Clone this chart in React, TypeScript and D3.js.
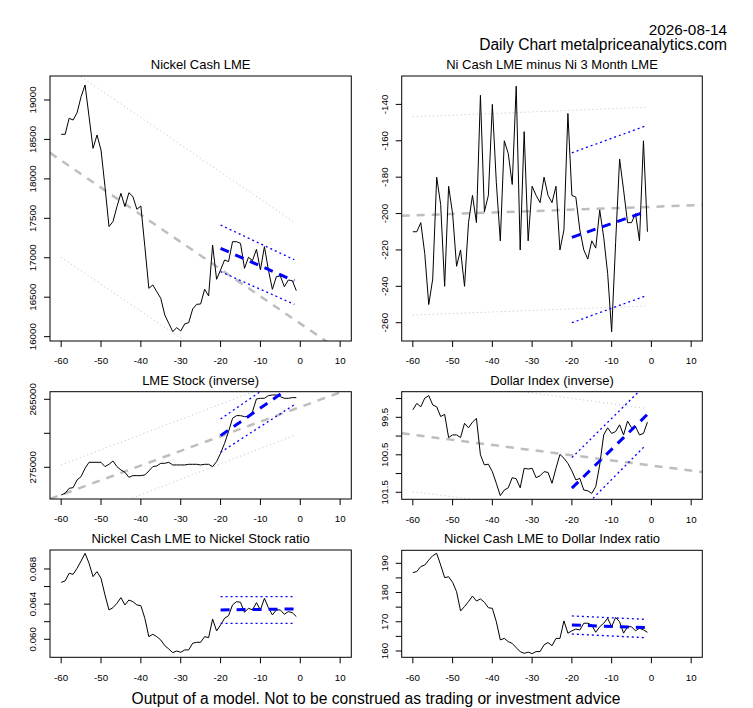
import * as d3 from "d3";

// trading days back from today
const days = [
  -60, -59, -58, -57, -56, -55, -54, -53, -52, -51, -50, -49, -48, -47, -46,
  -45, -44, -43, -42, -41, -40, -39, -38, -37, -36, -35, -34, -33, -32, -31,
  -30, -29, -28, -27, -26, -25, -24, -23, -22, -21, -20, -19, -18, -17, -16,
  -15, -14, -13, -12, -11, -10, -9, -8, -7, -6, -5, -4, -3, -2, -1,
];
const xTicks = [-60, -50, -40, -30, -20, -10, 0, 10];

const nickelCash = [
  18565, 18565, 18768, 18746, 18839, 19042, 19190, 18789, 18387, 18556,
  18366, 17901, 17395, 17458, 17648, 17817, 17648, 17825, 17775, 17614,
  17656, 17141, 16613, 16655, 16570, 16486, 16275, 16169, 16064, 16114,
  16072, 16161, 16178, 16351, 16410, 16414, 16600, 16516, 17162, 16727,
  16845, 16972, 16951, 17204, 17204, 17183, 16866, 17006, 16964, 17107,
  16845, 17141, 16845, 16600, 16761, 16769, 16634, 16718, 16710, 16583,
];
const cashMinus3m = [
  -210, -210, -205, -222, -250, -236, -180, -195, -240, -185,
  -200, -229, -220, -240, -205, -190, -205, -135, -199, -190,
  -140, -183, -215, -160, -167, -184, -130, -220, -155, -215,
  -185, -190, -194, -180, -190, -194, -185, -220, -209, -145,
  -190, -191, -209, -220, -225, -215, -219, -198, -213, -233,
  -265, -216, -170, -187, -205, -205, -200, -215, -160, -210,
];
const lmeStock = [
  279069, 278824, 278088, 277990, 276863, 276373, 275147, 274265, 274265, 274265,
  274265, 274902, 274559, 274069, 274902, 275392, 275735, 276471, 276225, 276225,
  276225, 276127, 275539, 274902, 274804, 274412, 274412, 274265, 274657, 274657,
  274657, 274657, 274559, 274559, 274559, 274657, 274559, 274559, 274902, 274167,
  272941, 271471, 269755, 267794, 267402, 267402, 267549, 267549, 266814, 264951,
  264853, 264853, 264461, 264363, 264363, 264608, 264853, 264853, 264755, 264755,
];
const dollarIndex = [
  99.30, 99.13, 99.22, 98.99, 98.92, 99.17, 99.22, 99.48, 99.42, 100.04,
  99.97, 99.97, 100.04, 99.66, 99.78, 99.63, 99.53, 100.50, 100.77, 100.75,
  100.95, 101.26, 101.59, 101.44, 101.38, 101.11, 101.14, 101.38, 100.86, 100.88,
  100.86, 101.11, 101.06, 100.95, 100.97, 101.26, 100.86, 100.49, 100.59, 100.73,
  100.93, 101.17, 101.13, 101.44, 101.46, 101.53, 101.35, 100.77, 99.97, 99.78,
  99.93, 99.88, 99.70, 99.97, 99.60, 99.78, 99.75, 99.97, 99.93, 99.63,
];
const stockRatio = [
  0.06648, 0.06664, 0.06751, 0.06739, 0.06808, 0.06891, 0.06978, 0.06864, 0.06713, 0.0677,
  0.06694, 0.06504, 0.06334, 0.0636, 0.0641, 0.06474, 0.06391, 0.06447, 0.06428, 0.06391,
  0.06383, 0.06239, 0.0603, 0.06057, 0.0603, 0.05992, 0.05928, 0.0589, 0.05848, 0.05867,
  0.05852, 0.05879, 0.05879, 0.05955, 0.05966, 0.05966, 0.0603, 0.06019, 0.06231, 0.06095,
  0.06163, 0.06239, 0.06269, 0.06391, 0.06428, 0.06421, 0.06307, 0.06353, 0.06334, 0.06417,
  0.06334, 0.06466, 0.0636, 0.06277, 0.06334, 0.06334, 0.06284, 0.06315, 0.06303, 0.06258,
];
const dollarRatio = [
  186.8, 187.2, 188.9, 189.4, 191.1, 192.6, 193.4, 189.4, 185.1, 185.4,
  183.5, 180.3, 173.7, 175.2, 176.9, 178.8, 177.1, 177.8, 176.7, 174.8,
  174.6, 170.0, 163.8, 164.3, 163.2, 162.6, 161.1, 159.8, 159.2, 159.6,
  159.1, 159.8, 159.8, 162.1, 162.9, 161.8, 164.3, 164.3, 170.3, 166.1,
  166.9, 167.5, 167.2, 169.5, 169.5, 168.9, 166.4, 168.3, 169.5, 171.2,
  168.3, 171.5, 170.0, 166.1, 168.3, 168.3, 166.9, 167.8, 167.2, 166.4,
];

// fitted lines as [x0, y0, x1, y1]; "trend" = whole window, "recent" = last 20 days
type Seg = [number, number, number, number];
type Fit = { mid: Seg; hi: Seg; lo: Seg };

const nickelTrend: Fit = {
  mid: [-62.8, 18330, 12.8, 15725],
  hi: [-60, 19467, -1.5, 17449],
  lo: [-60, 17006, -1.5, 15005],
};
const nickelRecent: Fit = {
  mid: [-20, 17120, -1.5, 16706],
  hi: [-20, 17415, -1.5, 16975],
  lo: [-20, 16824, -1.5, 16410],
};
const spreadTrend: Fit = {
  mid: [-62.8, -201.2, 12.8, -195.3],
  hi: [-60, -146.8, -1.5, -141.6],
  lo: [-60, -255.8, -1.5, -250.8],
};
const spreadRecent: Fit = {
  mid: [-20, -213.1, -1.5, -199.0],
  hi: [-20, -166.6, -1.5, -151.9],
  lo: [-20, -260, -1.5, -245.3],
};
const stockTrend: Fit = {
  mid: [-62.8, 279650, 12.8, 263374],
  hi: [-60, 274657, -1.5, 261582],
  lo: [-60, 283571, -1.5, 270300],
};
const stockRecent: Fit = {
  mid: [-20, 270343, -1.5, 262830],
  hi: [-20, 267892, -1.5, 260435],
  lo: [-20, 272794, -1.5, 265800],
};
const dollarTrend: Fit = {
  mid: [-62.8, 99.927, 12.8, 100.96],
  hi: [-60, 98.42, -1.5, 99.26],
  lo: [-60, 101.482, -1.5, 102.27],
};
const dollarRecent: Fit = {
  mid: [-20, 101.39, -1, 99.42],
  hi: [-20, 100.576, -1.5, 98.64],
  lo: [-20, 102.23, -1.5, 100.25],
};
const stockRatioRecent: Fit = {
  mid: [-20, 0.06334, -1.5, 0.06345],
  hi: [-20, 0.06485, -1.5, 0.06485],
  lo: [-20, 0.06182, -1.5, 0.06182],
};
const dollarRatioRecent: Fit = {
  mid: [-20, 168.9, -1.5, 167.99],
  hi: [-20, 171.98, -1.5, 170.84],
  lo: [-20, 165.82, -1.5, 164.56],
};

const FONT = "'Liberation Sans', Arial, Helvetica, sans-serif";
const GRAY = "#bebebe";
const BLUE = "#0000ff";

interface Box {
  x0: number;
  x1: number;
  y0: number;
  y1: number;
}

interface PanelProps {
  id: string;
  box: Box;
  title: string;
  values: number[];
  yDomain: [number, number];
  yTicks: number[];
  yLabels: number[];
  inverse?: boolean;
  trend?: Fit;
  recent: Fit;
  fmt?: (v: number) => string;
}

function Panel(p: PanelProps) {
  const { box } = p;
  const x = d3.scaleLinear().domain([-62.8, 12.8]).range([box.x0, box.x1]);
  const y = d3
    .scaleLinear()
    .domain(p.yDomain)
    .range(p.inverse ? [box.y0, box.y1] : [box.y1, box.y0]);
  const line = d3
    .line<number>()
    .x((_, i) => x(days[i]))
    .y((v) => y(v));
  const fmt = p.fmt ?? ((v: number) => String(v));

  const seg = (s: Seg, stroke: string, width: number, dash: string, key: string) => (
    <line
      key={key}
      x1={x(s[0])}
      y1={y(s[1])}
      x2={x(s[2])}
      y2={y(s[3])}
      stroke={stroke}
      strokeWidth={width}
      strokeDasharray={dash}
    />
  );

  return (
    <g>
      <defs>
        <clipPath id={`clip-${p.id}`}>
          <rect x={box.x0} y={box.y0} width={box.x1 - box.x0} height={box.y1 - box.y0} />
        </clipPath>
      </defs>
      <text
        x={(box.x0 + box.x1) / 2}
        y={box.y0 - 7}
        textAnchor="middle"
        fontSize={13}
        fontFamily={FONT}
      >
        {p.title}
      </text>
      <g clipPath={`url(#clip-${p.id})`}>
        {p.trend && seg(p.trend.hi, GRAY, 1, "1 3", "th")}
        {p.trend && seg(p.trend.lo, GRAY, 1, "1 3", "tl")}
        {p.trend && seg(p.trend.mid, GRAY, 2.5, "8 7", "tm")}
        <path d={line(p.values) ?? ""} fill="none" stroke="#000" strokeWidth={1} />
        {seg(p.recent.hi, BLUE, 1.3, "2 3", "rh")}
        {seg(p.recent.lo, BLUE, 1.3, "2 3", "rl")}
        {seg(p.recent.mid, BLUE, 3, "9 7", "rm")}
      </g>
      <rect
        x={box.x0}
        y={box.y0}
        width={box.x1 - box.x0}
        height={box.y1 - box.y0}
        fill="none"
        stroke="#000"
      />
      {xTicks.map((t) => (
        <g key={t} transform={`translate(${x(t)},${box.y1})`}>
          <line y2={6} stroke="#000" />
          <text y={20} dy="0.35em" textAnchor="middle" fontSize={9.75} fontFamily={FONT}>
            {t}
          </text>
        </g>
      ))}
      {p.yTicks.map((t) => (
        <g key={t} transform={`translate(${box.x0},${y(t)})`}>
          <line x2={-6} stroke="#000" />
          {p.yLabels.includes(t) && (
            <text
              transform="translate(-17,0) rotate(-90)"
              dy="0.35em"
              textAnchor="middle"
              fontSize={9.75}
              fontFamily={FONT}
            >
              {fmt(t)}
            </text>
          )}
        </g>
      ))}
    </g>
  );
}

const left = { x0: 50, x1: 351.3 };
const right = { x0: 401.7, x1: 702.3 };

export default function App() {
  return (
    <div style={{ position: "absolute", left: 0, top: 0 }}>
      <svg width={753} height={708} viewBox="0 0 753 708" style={{ display: "block", background: "#fff" }}>
        <text x={727} y={34.5} textAnchor="end" fontSize={15.3} fontFamily={FONT}>
          2026-08-14
        </text>
        <text x={727} y={49.5} textAnchor="end" fontSize={15.6} fontFamily={FONT}>
          Daily Chart metalpriceanalytics.com
        </text>

        <Panel
          id="p1"
          box={{ ...left, y0: 76, y1: 341 }}
          title="Nickel Cash LME"
          values={nickelCash}
          yDomain={[15945, 19304]}
          yTicks={[16000, 16500, 17000, 17500, 18000, 18500, 19000]}
          yLabels={[16000, 16500, 17000, 17500, 18000, 18500, 19000]}
          trend={nickelTrend}
          recent={nickelRecent}
        />
        <Panel
          id="p2"
          box={{ ...right, y0: 76, y1: 341 }}
          title="Ni Cash LME minus Ni 3 Month LME"
          values={cashMinus3m}
          yDomain={[-270.05, -124.4]}
          yTicks={[-260, -240, -220, -200, -180, -160, -140]}
          yLabels={[-260, -240, -220, -200, -180, -160, -140]}
          trend={spreadTrend}
          recent={spreadRecent}
        />
        <Panel
          id="p3"
          box={{ ...left, y0: 391.7, y1: 499 }}
          title="LME Stock (inverse)"
          values={lmeStock}
          yDomain={[263882, 279662]}
          yTicks={[265000, 270000, 275000]}
          yLabels={[265000, 275000]}
          inverse
          trend={stockTrend}
          recent={stockRecent}
        />
        <Panel
          id="p4"
          box={{ ...right, y0: 391.7, y1: 499.3 }}
          title="Dollar Index (inverse)"
          values={dollarIndex}
          yDomain={[98.817, 101.687]}
          yTicks={[99, 99.5, 100, 100.5, 101, 101.5]}
          yLabels={[99.5, 100.5, 101.5]}
          inverse
          trend={dollarTrend}
          recent={dollarRecent}
        />
        <Panel
          id="p5"
          box={{ ...left, y0: 550, y1: 657.3 }}
          title="Nickel Cash LME to Nickel Stock ratio"
          values={stockRatio}
          yDomain={[0.05795, 0.07016]}
          yTicks={[0.06, 0.062, 0.064, 0.066, 0.068]}
          yLabels={[0.06, 0.064, 0.068]}
          recent={stockRatioRecent}
          fmt={(v) => v.toFixed(3)}
        />
        <Panel
          id="p6"
          box={{ ...right, y0: 550.3, y1: 657.3 }}
          title="Nickel Cash LME to Dollar Index ratio"
          values={dollarRatio}
          yDomain={[157.84, 194.45]}
          yTicks={[160, 165, 170, 175, 180, 185, 190]}
          yLabels={[160, 170, 180, 190]}
          recent={dollarRatioRecent}
        />

        <text x={376} y={704.3} textAnchor="middle" fontSize={15.6} fontFamily={FONT}>
          Output of a model. Not to be construed as trading or investment advice
        </text>
      </svg>
    </div>
  );
}
